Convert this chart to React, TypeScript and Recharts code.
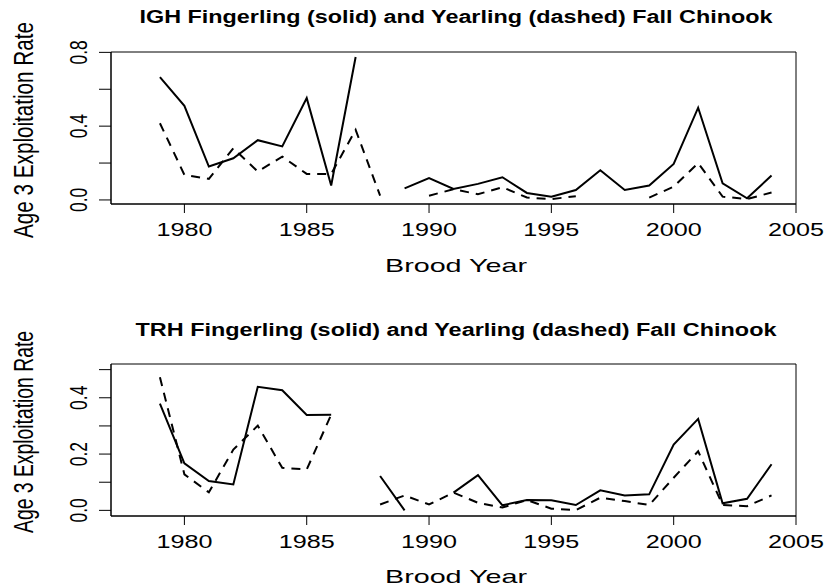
import { LineChart, Line, XAxis, YAxis, ReferenceArea } from "recharts";

const years = [
  1979, 1980, 1981, 1982, 1983, 1984, 1985, 1986, 1987, 1988, 1989, 1990, 1991,
  1992, 1993, 1994, 1995, 1996, 1997, 1998, 1999, 2000, 2001, 2002, 2003, 2004,
];

// IGH panel
const ighFingerling = [
  0.666, 0.51, 0.181, 0.226, 0.324, 0.29, 0.552, 0.078, 0.775, null, 0.063, 0.118, 0.06,
  0.087, 0.123, 0.038, 0.018, 0.054, 0.161, 0.054, 0.078, 0.195, 0.5, 0.09, 0.009, 0.132,
];
const ighYearling = [
  0.416, 0.136, 0.114, 0.28, 0.154, 0.235, 0.141, 0.141, 0.38, 0.023, null, 0.023, 0.058,
  0.031, 0.069, 0.013, 0.005, 0.02, null, null, 0.013, 0.072, 0.2, 0.018, 0.005, 0.04,
];

// TRH panel
const trhFingerling = [
  0.379, 0.167, 0.104, 0.092, 0.439, 0.427, 0.339, 0.34, null, 0.122, 0.0, null, 0.063,
  0.125, 0.018, 0.037, 0.036, 0.019, 0.071, 0.053, 0.057, 0.234, 0.325, 0.025, 0.041, 0.164,
];
const trhYearling = [
  0.473, 0.128, 0.064, 0.216, 0.301, 0.151, 0.145, 0.34, null, 0.021, 0.053, 0.021, 0.063,
  0.027, 0.01, 0.037, 0.006, 0.001, 0.045, 0.033, 0.019, 0.116, 0.21, 0.019, 0.015, 0.053,
];

const xTicks = [1980, 1985, 1990, 1995, 2000, 2005];
const ighYTicks = [0, 0.2, 0.4, 0.6, 0.8];
const ighYLabels = [0, 0.4, 0.8];
const trhYTicks = [0, 0.1, 0.2, 0.3, 0.4, 0.5];
const trhYLabels = [0, 0.2, 0.4];

const FONT = "'Liberation Sans', Arial, sans-serif";

const XTick = ({ x, y, payload }: any) => (
  <text
    x={x}
    y={y + 23}
    textAnchor="middle"
    fontFamily={FONT}
    fontSize={18.6}
    textLength={56}
    lengthAdjust="spacingAndGlyphs"
    fill="#000"
  >
    {payload.value}
  </text>
);

const makeYTick = (labels: number[]) => ({ x, y, payload }: any) => {
  if (!labels.some((v) => Math.abs(v - payload.value) < 1e-9)) return <g />;
  return (
    <text
      transform={`translate(${x - 12},${y}) scale(1.4,1) rotate(-90)`}
      textAnchor="middle"
      fontFamily={FONT}
      fontSize={17.5}
      fill="#000"
    >
      {payload.value.toFixed(1)}
    </text>
  );
};

interface PanelProps {
  top: number;
  height: number;
  bottom: number;
  fingerling: (number | null)[];
  yearling: (number | null)[];
  yDomain: [number, number];
  yTicks: number[];
  yLabels: number[];
}

const Panel = ({ top, height, bottom, fingerling, yearling, yDomain, yTicks, yLabels }: PanelProps) => {
  const data = years.map((year, i) => ({ year, fingerling: fingerling[i], yearling: yearling[i] }));
  return (
    <div style={{ position: "absolute", left: 0, top, width: 826, height }}>
      <LineChart width={826} height={height} data={data} margin={{ top: 52, right: 30, bottom, left: 0 }}>
        <XAxis
          dataKey="year"
          type="number"
          domain={[1977, 2005]}
          ticks={xTicks}
          allowDataOverflow
          height={70}
          tickSize={9}
          tickMargin={0}
          tick={<XTick />}
          stroke="#000"
        />
        <YAxis
          type="number"
          domain={yDomain}
          ticks={yTicks}
          allowDataOverflow
          width={111}
          tickSize={12}
          tickMargin={0}
          tick={makeYTick(yLabels)}
          stroke="#000"
        />
        <ReferenceArea x1={1977} x2={2005} y1={yDomain[0]} y2={yDomain[1]} fill="none" stroke="#000" strokeWidth={1} />
        <Line
          dataKey="fingerling"
          stroke="#000"
          strokeWidth={2}
          dot={false}
          connectNulls={false}
          isAnimationActive={false}
        />
        <Line
          dataKey="yearling"
          stroke="#000"
          strokeWidth={2}
          strokeDasharray="9 7"
          dot={false}
          connectNulls={false}
          isAnimationActive={false}
        />
      </LineChart>
    </div>
  );
};

export default function App() {
  return (
    <div style={{ position: "absolute", left: 0, top: 0, width: 826, height: 587, background: "#fff", overflow: "hidden" }}>
      <Panel
        top={0}
        height={293}
        bottom={19}
        fingerling={ighFingerling}
        yearling={ighYearling}
        yDomain={[-0.022, 0.802]}
        yTicks={ighYTicks}
        yLabels={ighYLabels}
      />
      <Panel
        top={312}
        height={275}
        bottom={1}
        fingerling={trhFingerling}
        yearling={trhYearling}
        yDomain={[-0.02, 0.52]}
        yTicks={trhYTicks}
        yLabels={trhYLabels}
      />
      <svg width={826} height={587} style={{ position: "absolute", left: 0, top: 0, pointerEvents: "none" }}>
        <g fontFamily={FONT} fill="#000">
          <text x={456} y={23} textAnchor="middle" fontSize={18} fontWeight="bold" textLength={633} lengthAdjust="spacingAndGlyphs">
            IGH Fingerling (solid) and Yearling (dashed) Fall Chinook
          </text>
          <text x={456} y={336} textAnchor="middle" fontSize={18} fontWeight="bold" textLength={641} lengthAdjust="spacingAndGlyphs">
            TRH Fingerling (solid) and Yearling (dashed) Fall Chinook
          </text>
          <text x={456} y={272} textAnchor="middle" fontSize={18.6} textLength={142} lengthAdjust="spacingAndGlyphs">
            Brood Year
          </text>
          <text x={456} y={583} textAnchor="middle" fontSize={18.6} textLength={142} lengthAdjust="spacingAndGlyphs">
            Brood Year
          </text>
          <text
            transform="translate(33,130) scale(1.33,1) rotate(-90)"
            textAnchor="middle"
            fontSize={20.7}
            textLength={216}
            lengthAdjust="spacingAndGlyphs"
          >
            Age 3 Exploitation Rate
          </text>
          <text
            transform="translate(33,432) scale(1.33,1) rotate(-90)"
            textAnchor="middle"
            fontSize={20.7}
            textLength={202}
            lengthAdjust="spacingAndGlyphs"
          >
            Age 3 Exploitation Rate
          </text>
        </g>
      </svg>
    </div>
  );
}
